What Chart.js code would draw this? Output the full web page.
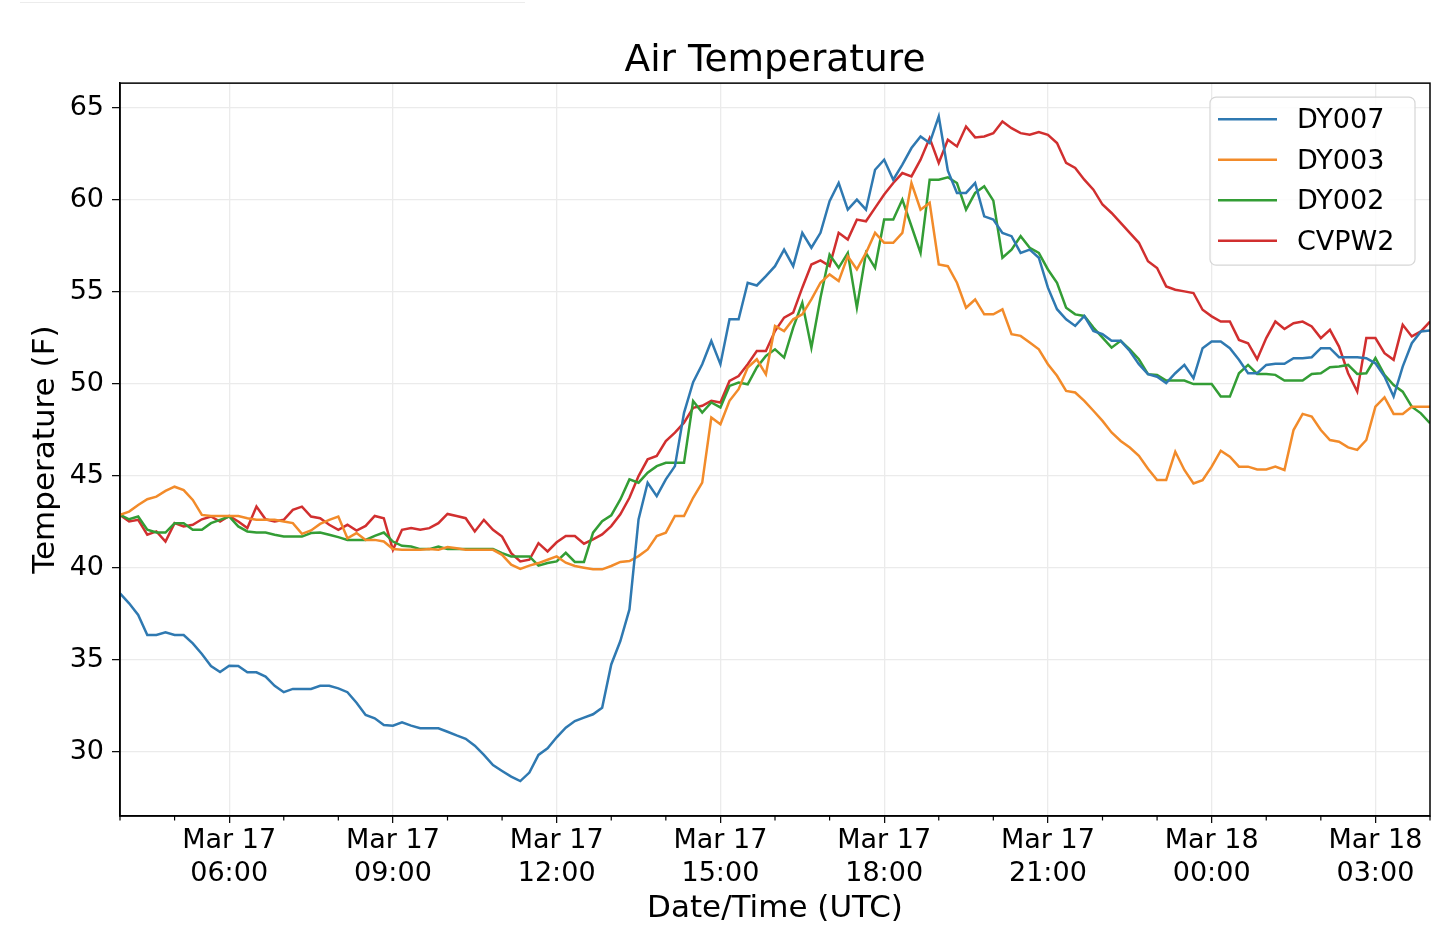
<!DOCTYPE html>
<html lang="en">
<head>
  <meta charset="UTF-8" />
  <title>Air Temperature</title>
  <style>
    body {
      margin: 0;
      background: #fff;
      font-family: 'DejaVu Sans', sans-serif;
    }
    .wrap {
      position: relative;
      width: 1440px;
      height: 940px;
    }
    .topline {
      position: absolute;
      left: 20px;
      top: 2px;
      width: 505px;
      height: 1px;
      background: #ececec;
    }
  </style>
</head>
<body>
  <div class="wrap">
    <div class="topline"></div>
    <canvas id="tempChart" width="1440" height="940"></canvas>
  </div>

  <script src="https://cdn.jsdelivr.net/npm/chart.js@4.4.1/dist/chart.umd.min.js"></script>
  <script>
    // readings every 10 minutes, Mar 17 04:00 UTC -> Mar 18 04:00 UTC
    const startHour = 4;
    const stepMinutes = 10;

    const seriesNames = ['DY007', 'DY003', 'DY002', 'CVPW2'];
    const seriesColors = ['#2f79b1', '#f28b2a', '#339d35', '#d12f2f'];

    const dy007 = [
      38.62, 38.08, 37.45, 36.36, 36.36, 36.5, 36.36, 36.36, 35.9, 35.33,
      34.67, 34.35, 34.69, 34.67, 34.33, 34.33, 34.1, 33.6, 33.25, 33.43,
      33.43, 33.43, 33.6, 33.6, 33.46, 33.25, 32.68, 32.01, 31.83, 31.47,
      31.43, 31.61, 31.43, 31.29, 31.29, 31.29, 31.1, 30.9, 30.72, 30.34,
      29.84, 29.29, 28.97, 28.66, 28.42, 28.88, 29.84, 30.2, 30.8,
      31.32, 31.68, 31.87, 32.05, 32.41, 34.76, 36.03, 37.75, 42.64, 44.64,
      43.91, 44.82, 45.54, 48.44, 50.1,
      51.08, 52.34, 51.08, 53.52, 53.52, 55.51, 55.36, 55.87, 56.41, 57.31,
      56.41, 58.22, 57.41, 58.22, 59.94, 60.93, 59.48, 60.03, 59.48, 61.65,
      62.20, 61.11, 61.93, 62.83, 63.46, 63.1, 64.55,
      61.6, 60.39, 60.39, 60.93, 59.12, 58.94, 58.22, 58.04, 57.13, 57.31,
      56.87, 55.24, 54.07, 53.52, 53.16, 53.70, 52.89, 52.71, 52.35, 52.35,
      51.80, 51.08, 50.54, 50.4,
      50.05, 50.59, 51.04, 50.32, 51.95, 52.31, 52.31, 51.95, 51.32, 50.59,
      50.59, 51.04, 51.10, 51.10, 51.41, 51.41, 51.46, 51.95, 51.95, 51.46,
      51.46, 51.46, 51.41, 51.13, 50.41, 49.32, 50.95, 52.22, 52.86, 52.91
    ];

    const dy003 = [
      42.89, 43.07, 43.43, 43.74, 43.88, 44.19, 44.42, 44.24, 43.70, 42.89,
      42.83, 42.83, 42.83, 42.83, 42.71, 42.62, 42.62, 42.62, 42.53, 42.44,
      41.86, 42.04, 42.40, 42.62, 42.80, 41.62, 41.90, 41.53, 41.53, 41.44,
      41.03, 40.99, 40.99, 40.99, 41.03, 40.99, 41.14, 41.08, 40.99, 40.99,
      40.99, 40.99, 40.72, 40.18, 39.95, 40.13, 40.27, 40.45, 40.63,
      40.29, 40.11, 40.02, 39.93, 39.93, 40.11, 40.33, 40.38, 40.65, 41.01,
      41.74, 41.92, 42.83, 42.83, 43.82,
      44.64, 48.18, 47.82, 49.09, 49.72, 50.90, 51.35, 50.53, 53.16, 52.88,
      53.52, 53.79, 54.60, 55.51, 55.96, 55.60, 56.95, 56.23, 57.13, 58.22,
      57.68, 57.68, 58.22, 60.93, 59.48, 59.85, 56.50,
      56.41, 55.51, 54.15, 54.60, 53.79, 53.79, 54.06, 52.71, 52.62, 52.26,
      51.89, 51.08, 50.45, 49.63, 49.54, 49.09, 48.55, 48.0, 47.37, 46.91,
      46.55, 46.1, 45.4,
      44.78, 44.78, 46.32, 45.33, 44.60, 44.78, 45.51, 46.38, 46.05, 45.51,
      45.51, 45.36, 45.36, 45.51, 45.33, 47.50, 48.38, 48.23, 47.50, 46.96,
      46.87, 46.56, 46.42, 46.96, 48.77, 49.28, 48.38, 48.38, 48.77, 48.77,
      48.77
    ];

    const dy002 = [
      42.89, 42.65, 42.80, 42.08, 41.93, 41.93, 42.44, 42.44, 42.08, 42.08,
      42.44, 42.62, 42.80, 42.26, 41.99, 41.93, 41.93, 41.81, 41.71, 41.71,
      41.71, 41.90, 41.93, 41.81, 41.68, 41.53, 41.53, 41.53, 41.75, 41.93,
      41.44, 41.21, 41.17, 41.03, 41.03, 41.17, 41.03, 41.03, 41.03, 41.03,
      41.03, 41.03, 40.81, 40.63, 40.63, 40.63, 40.13, 40.27, 40.36,
      40.83, 40.33, 40.33, 41.92, 42.55, 42.86, 43.73, 44.82, 44.64, 45.18,
      45.54, 45.72, 45.72, 45.72, 49.08,
      48.45, 49.0, 48.73, 49.90, 50.08, 49.99, 50.90, 51.53, 51.89, 51.44,
      53.07, 54.42, 51.98, 54.69, 57.04, 56.32, 57.13, 54.15, 57.13, 56.32,
      58.94, 58.94, 60.03, 58.58, 57.13, 61.11, 61.11,
      61.24, 60.93, 59.48, 60.39, 60.75, 59.97, 56.87, 57.31, 58.04, 57.41,
      57.13, 56.23, 55.51, 54.15, 53.79, 53.70, 53.07, 52.53, 51.98, 52.35,
      51.89, 51.35, 50.54, 50.5,
      50.19, 50.19, 50.19, 50.0, 50.0, 50.0, 49.32, 49.32, 50.59, 51.04,
      50.55, 50.55, 50.50, 50.19, 50.19, 50.19, 50.55, 50.59, 50.92, 50.95,
      51.04, 50.55, 50.59, 51.41, 50.50, 49.95, 49.59, 48.77, 48.41, 47.87
    ];

    const cvpw2 = [
      42.89, 42.53, 42.62, 41.81, 41.99, 41.44, 42.44, 42.26, 42.35, 42.65,
      42.80, 42.53, 42.83, 42.53, 42.17, 43.34, 42.65, 42.53, 42.62, 43.16,
      43.34, 42.80, 42.71, 42.35, 42.08, 42.35, 42.04, 42.29, 42.83, 42.71,
      40.99, 42.08, 42.17, 42.08, 42.17, 42.44, 42.94, 42.83, 42.71, 41.99,
      42.62, 42.08, 41.71, 40.81, 40.36, 40.45, 41.35, 40.9, 41.4,
      41.74, 41.74, 41.32, 41.56, 41.83, 42.28, 42.92, 43.82, 45.0, 45.91,
      46.09, 46.90, 47.36, 47.90, 48.71,
      48.82, 49.09, 49.0, 50.17, 50.44, 51.08, 51.80, 51.80, 52.88, 53.61,
      53.88, 55.24, 56.50, 56.72, 56.41, 58.22, 57.86, 58.94, 58.85, 59.58,
      60.30, 60.93, 61.47, 61.29, 62.20, 63.37, 62.02, 63.28,
      62.92, 64.0, 63.41, 63.46, 63.64, 64.28, 63.91, 63.64, 63.55, 63.70,
      63.55, 63.10, 62.02, 61.75, 61.11, 60.57, 59.76, 59.30, 58.76, 58.22,
      57.68, 56.68,
      56.31, 55.31, 55.13, 55.04, 54.95, 54.04, 53.68, 53.40, 53.40, 52.40,
      52.22, 51.35, 52.50, 53.40, 52.99, 53.31, 53.40, 53.13, 52.50, 52.95,
      52.04, 50.59, 49.59, 52.50, 52.50, 51.68, 51.32, 53.22, 52.59, 52.86,
      53.40
    ];

    const yTicks = [30, 35, 40, 45, 50, 55, 60, 65];
    const xMajorHours = [6, 9, 12, 15, 18, 21, 24, 27];
    const xTickLabels = [
      ['Mar 17', '06:00'], ['Mar 17', '09:00'], ['Mar 17', '12:00'], ['Mar 17', '15:00'],
      ['Mar 17', '18:00'], ['Mar 17', '21:00'], ['Mar 18', '00:00'], ['Mar 18', '03:00']
    ];

    const toPoints = (vals) => vals.map((v, i) => ({ x: startHour + i * stepMinutes / 60, y: v }));

    const allSeries = [dy007, dy003, dy002, cvpw2];

    // frame on all four sides, hourly minor ticks, legend box
    const framePlugin = {
      id: 'frame',
      afterDraw(chart) {
        const { ctx, chartArea: a, scales: { x } } = chart;
        ctx.save();
        ctx.strokeStyle = '#000';
        ctx.lineWidth = 1.5;
        ctx.strokeRect(a.left, a.top, a.right - a.left, a.bottom - a.top);

        ctx.lineWidth = 1.2;
        for (let h = Math.ceil(x.min); h <= x.max; h++) {
          if (xMajorHours.includes(h)) continue;
          const px = x.getPixelForValue(h);
          ctx.beginPath();
          ctx.moveTo(px, a.bottom);
          ctx.lineTo(px, a.bottom + 4.5);
          ctx.stroke();
        }

        // legend
        const bw = 205, bh = 168;
        const bx = a.right - 15 - bw, by = a.top + 14;
        ctx.beginPath();
        ctx.roundRect(bx, by, bw, bh, 6);
        ctx.fillStyle = 'rgba(255,255,255,0.85)';
        ctx.fill();
        ctx.strokeStyle = '#d6d6d6';
        ctx.lineWidth = 1.2;
        ctx.stroke();

        ctx.font = '27px "DejaVu Sans"';
        ctx.textBaseline = 'middle';
        ctx.textAlign = 'left';
        chart.data.datasets.forEach((ds, i) => {
          const ry = by + 22 + i * 40.5;
          ctx.strokeStyle = ds.borderColor;
          ctx.lineWidth = 2.5;
          ctx.beginPath();
          ctx.moveTo(bx + 8, ry);
          ctx.lineTo(bx + 67, ry);
          ctx.stroke();
          ctx.fillStyle = '#000';
          ctx.fillText(ds.label, bx + 87, ry + 2);
        });
        ctx.restore();
      }
    };

    Chart.defaults.font.family = "'DejaVu Sans', sans-serif";
    Chart.defaults.color = '#000';

    const ctx = document.getElementById('tempChart').getContext('2d');
    new Chart(ctx, {
      type: 'line',
      data: {
        datasets: allSeries.map((vals, i) => ({
          label: seriesNames[i],
          data: toPoints(vals),
          borderColor: seriesColors[i],
          backgroundColor: seriesColors[i],
          borderWidth: 2.5,
          pointRadius: 0,
          tension: 0,
          fill: false
        }))
      },
      options: {
        responsive: false,
        animation: false,
        layout: { padding: { left: 0, right: 10, top: 0, bottom: 0 } },
        plugins: {
          legend: { display: false },
          tooltip: { enabled: false },
          title: {
            display: true,
            fullSize: false,
            text: 'Air Temperature',
            color: '#000',
            font: { size: 37.5, weight: 'normal', lineHeight: 1.15 },
            padding: { top: 40, bottom: 0 }
          }
        },
        scales: {
          x: {
            type: 'linear',
            min: startHour,
            max: startHour + 24,
            afterBuildTicks: (s) => { s.ticks = xMajorHours.map(v => ({ value: v })); },
            afterFit: (s) => { s.height = 124; },
            ticks: {
              autoSkip: false,
              maxRotation: 0,
              color: '#000',
              padding: 2,
              font: { size: 27, lineHeight: 1.2 },
              callback: (v) => xTickLabels[xMajorHours.indexOf(v)] || ''
            },
            grid: {
              color: '#ebebeb',
              lineWidth: 1.3,
              tickColor: '#000',
              tickLength: 7,
              tickWidth: 1.2
            },
            border: { color: '#000', width: 1.5 },
            title: {
              display: true,
              text: 'Date/Time (UTC)',
              color: '#000',
              font: { size: 31, lineHeight: 1.2 },
              padding: { top: 0, bottom: 12 }
            }
          },
          y: {
            type: 'linear',
            min: 26.52,
            max: 66.36,
            afterBuildTicks: (s) => { s.ticks = yTicks.map(v => ({ value: v })); },
            afterFit: (s) => { s.width = 120; },
            ticks: {
              color: '#000',
              padding: 8,
              font: { size: 27 }
            },
            grid: {
              color: '#ebebeb',
              lineWidth: 1.3,
              tickColor: '#000',
              tickLength: 8,
              tickWidth: 1.2
            },
            border: { color: '#000', width: 1.5 },
            title: {
              display: true,
              text: 'Temperature (F)',
              color: '#000',
              font: { size: 31, lineHeight: 1.2 },
              padding: { top: 27, bottom: 0 }
            }
          }
        }
      },
      plugins: [framePlugin]
    });
  </script>
</body>
</html>
